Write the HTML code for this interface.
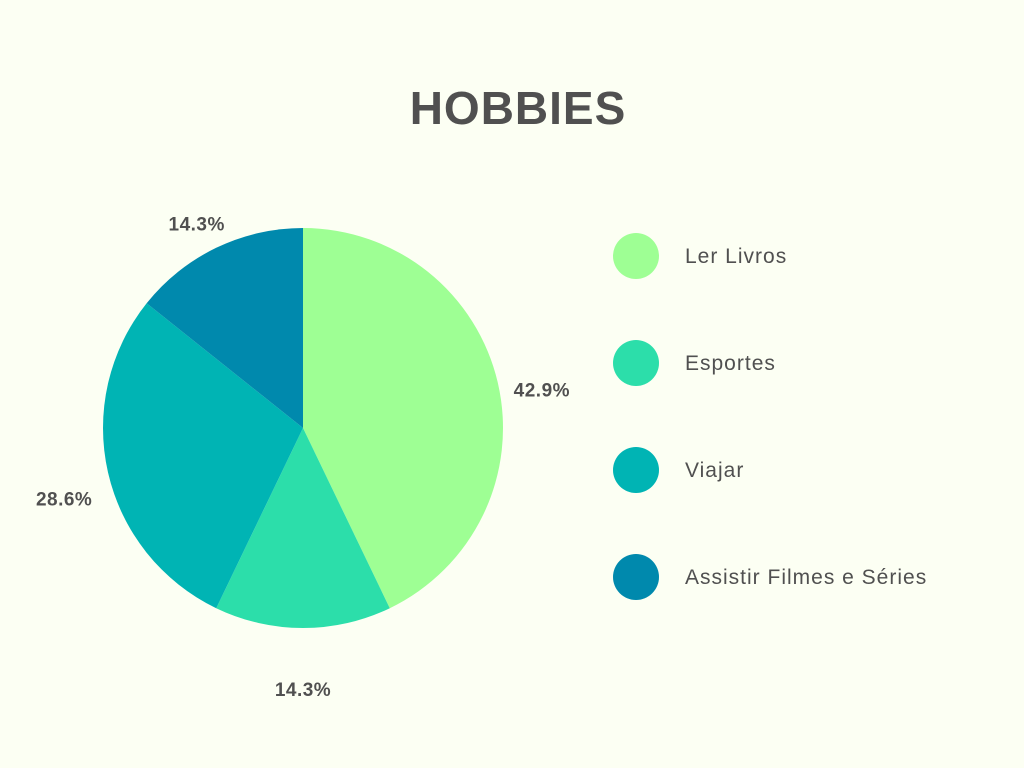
<!DOCTYPE html>
<html><head><meta charset="utf-8"><style>
body{margin:0;background:#fcfff3;}
svg{display:block;font-family:"Liberation Sans",sans-serif;}
</style></head><body>
<svg width="1024" height="768">
<rect width="1024" height="768" fill="#fcfff3"/>
<text x="518" y="124" text-anchor="middle" font-size="46" font-weight="bold" fill="#505050" letter-spacing="1">HOBBIES</text>
<g id="pie"></g>
<g id="legend"></g>
</svg>
<script>
const categories=["Ler Livros","Esportes","Viajar","Assistir Filmes e Séries"];
const values=[42.9,14.3,28.6,14.3];
const labels=["42.9%","14.3%","28.6%","14.3%"];
const colors=["#9eff94","#2cdeaa","#00b4b4","#0089ad"];
const ns="http://www.w3.org/2000/svg";
const cx=303,cy=428,r=200,lr=245;
const total=values.reduce((a,b)=>a+b,0);
const pie=document.getElementById('pie'),leg=document.getElementById('legend');
let a0=0;
function pt(a,rad){return [cx+rad*Math.sin(a),cy-rad*Math.cos(a)];}
values.forEach((v,i)=>{
  const a1=a0+v/total*2*Math.PI;
  const p0=pt(a0,r),p1=pt(a1,r);
  const path=document.createElementNS(ns,'path');
  path.setAttribute('d',`M${cx},${cy}L${p0[0]},${p0[1]}A${r},${r} 0 ${a1-a0>Math.PI?1:0} 1 ${p1[0]},${p1[1]}Z`);
  path.setAttribute('fill',colors[i]);
  
  
  pie.appendChild(path);
  const m=(a0+a1)/2,lp=pt(m,lr);
  const t=document.createElementNS(ns,'text');
  t.setAttribute('x',lp[0]);t.setAttribute('y',lp[1]+23);
  t.setAttribute('text-anchor','middle');t.setAttribute('font-size','19');
  t.setAttribute('font-weight','bold');t.setAttribute('fill','#505050');
  t.setAttribute('letter-spacing','0.5');
  t.textContent=labels[i];
  
  
  pie.appendChild(t);
  a0=a1;
  const y=256+i*107;
  const c=document.createElementNS(ns,'circle');
  c.setAttribute('cx',636);c.setAttribute('cy',y);c.setAttribute('r',23);c.setAttribute('fill',colors[i]);
  
  
  leg.appendChild(c);
  const lt=document.createElementNS(ns,'text');
  lt.setAttribute('x',685);lt.setAttribute('y',y+7);lt.setAttribute('font-size','21');lt.setAttribute('fill','#505050');
  lt.setAttribute('letter-spacing','1');
  lt.textContent=categories[i];
  
  
  leg.appendChild(lt);
});
</script>
</body></html>
